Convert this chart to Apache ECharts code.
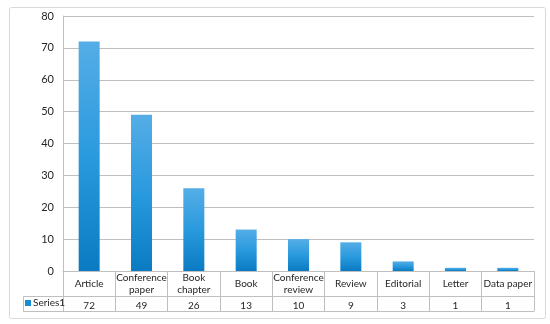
<!DOCTYPE html>
<html>
<head>
<meta charset="utf-8">
<script src="https://cdn.jsdelivr.net/npm/echarts@6/dist/echarts.min.js"></script>
<style>
  html, body { margin: 0; padding: 0; background: #fff; }
  #chart { width: 550px; height: 324px; }
</style>
</head>
<body>
<div id="chart"></div>
<script>
var categories = ['Article', 'Conference\npaper', 'Book\nchapter', 'Book', 'Conference\nreview', 'Review', 'Editorial', 'Letter', 'Data paper'];
var series1 = [72, 49, 26, 13, 10, 9, 3, 1, 1];
var yTicks = [0, 80, 10]; // min, max, interval

var font = "'Lato', sans-serif";
var txt = '#262626';
var lineCol = '#bfbfbf';

var chart = echarts.init(document.getElementById('chart'));

var option = {
    animation: false,
    grid: { left: 63, right: 16, top: 16, bottom: 53 },
    legend: {
        left: 25, top: 298, padding: 0,
        itemWidth: 6, itemHeight: 6, itemGap: 0,
        icon: 'rect',
        textStyle: { fontFamily: font, fontSize: 10, color: txt, padding: [0, 0, 0, -3] },
        itemStyle: { color: '#1a8cd4' },
        data: ['Series1']
    },
    xAxis: [
        {
            type: 'category',
            data: categories,
            position: 'bottom',
            axisLine: { lineStyle: { color: lineCol } },
            axisTick: { show: true, length: 40, interval: 0, lineStyle: { color: lineCol } },
            axisLabel: {
                interval: 0, margin: 12.5, verticalAlign: 'middle',
                fontFamily: font, fontSize: 10, color: txt, lineHeight: 12
            }
        },
        {
            type: 'category',
            data: series1.map(String),
            position: 'bottom',
            offset: 25,
            axisLine: { lineStyle: { color: lineCol } },
            axisTick: { show: false },
            axisLabel: {
                interval: 0, margin: 9.5, verticalAlign: 'middle',
                fontFamily: font, fontSize: 10, color: txt
            }
        },
        {
            type: 'category',
            data: categories,
            position: 'bottom',
            offset: 40,
            axisLine: { lineStyle: { color: lineCol } },
            axisTick: { show: false },
            axisLabel: { show: false }
        }
    ],
    yAxis: {
        type: 'value',
        min: yTicks[0], max: yTicks[1], interval: yTicks[2],
        axisLine: { show: true, lineStyle: { color: lineCol } },
        axisTick: { show: false },
        splitLine: { lineStyle: { color: lineCol } },
        axisLabel: { fontFamily: font, fontSize: 11, color: txt, margin: 9 }
    },
    series: [{
        name: 'Series1',
        type: 'bar',
        data: series1,
        barWidth: 21,
        itemStyle: {
            color: new echarts.graphic.LinearGradient(0, 0, 0, 1, [
                { offset: 0, color: '#55ade6' },
                { offset: 0.5, color: '#2a9ade' },
                { offset: 1, color: '#0a7bc2' }
            ])
        }
    }],
    graphic: [
        {
            type: 'rect', left: 7, top: 5, z: -1,
            shape: { width: 536, height: 311, r: 2 },
            style: { fill: 'none', stroke: '#d9d9d9', lineWidth: 1 }
        },
        {
            type: 'polyline', z: 10,
            shape: { points: [[63, 296.5], [23.5, 296.5], [23.5, 311.5], [63, 311.5]] },
            style: { fill: 'none', stroke: lineCol, lineWidth: 1 }
        }
    ]
};

chart.setOption(option);
</script>
</body>
</html>
